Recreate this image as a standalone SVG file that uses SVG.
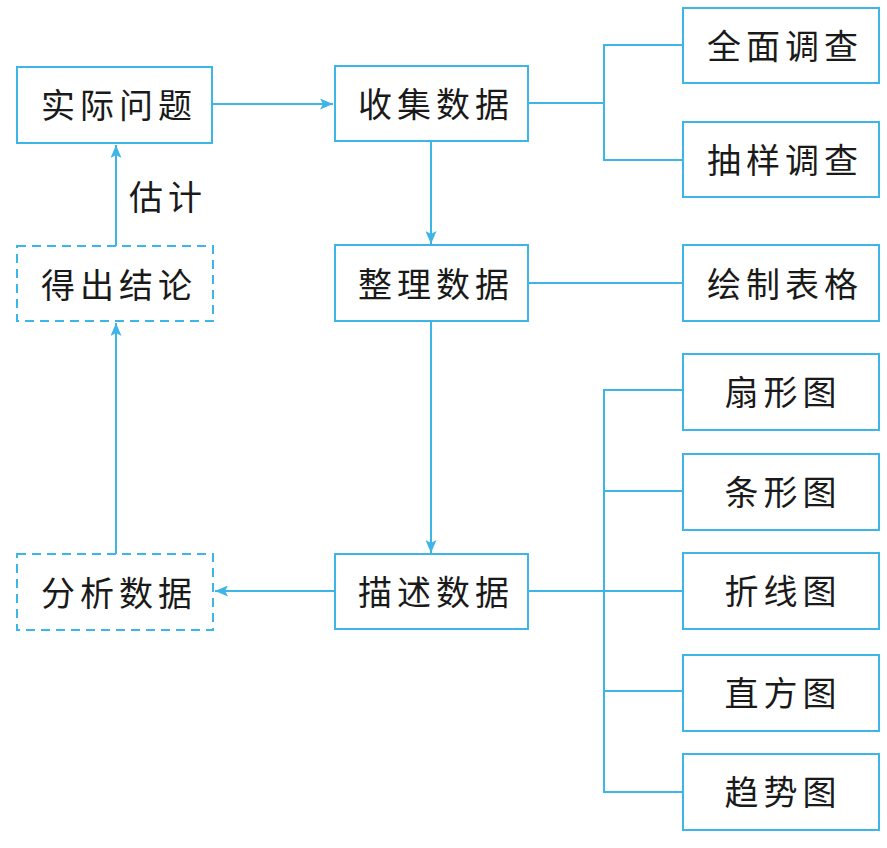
<svg xmlns="http://www.w3.org/2000/svg" width="887" height="848" viewBox="0 0 887 848">
<style>
.box{fill:#fff;stroke:#3db5e6;stroke-width:2}
.dash{stroke-dasharray:9 6}
.ln{fill:none;stroke:#3db5e6;stroke-width:2}
.t{font-family:"Noto Sans CJK SC",sans-serif;font-size:34px;fill:#1a1a1a;text-anchor:middle;dominant-baseline:central;letter-spacing:5px}
</style>
<defs>
<marker id="ah" viewBox="0 0 13 11" refX="13" refY="5.5" markerWidth="13" markerHeight="11" markerUnits="userSpaceOnUse" orient="auto">
<path d="M0,0 L13,5.5 L0,11 L3,5.5 Z" fill="#3db5e6"/>
</marker>
</defs>
<rect width="887" height="848" fill="#fff"/>
<g id="connectors">
<line class="ln" x1="212" y1="104" x2="333" y2="104" marker-end="url(#ah)"/>
<line class="ln" x1="431" y1="141" x2="431" y2="244" marker-end="url(#ah)"/>
<line class="ln" x1="431" y1="321" x2="431" y2="553" marker-end="url(#ah)"/>
<line class="ln" x1="335" y1="591" x2="215" y2="591" marker-end="url(#ah)"/>
<line class="ln" x1="116" y1="554" x2="116" y2="323" marker-end="url(#ah)"/>
<line class="ln" x1="116" y1="246" x2="116" y2="145" marker-end="url(#ah)"/>
<polyline class="ln" points="528,103 604,103"/>
<polyline class="ln" points="683,45 604,45 604,160 683,160"/>
<line class="ln" x1="528" y1="283" x2="683" y2="283"/>
<line class="ln" x1="528" y1="591" x2="683" y2="591"/>
<polyline class="ln" points="683,390 604,390 604,792 683,792"/>
<line class="ln" x1="604" y1="491" x2="683" y2="491"/>
<line class="ln" x1="604" y1="691" x2="683" y2="691"/>
<text class="t" x="168" y="195">估计</text>
</g>
<g id="n-shiji"><rect class="box" x="17" y="67" width="195" height="76"/><text class="t" x="119" y="103">实际问题</text></g>
<g id="n-shouji"><rect class="box" x="335" y="66" width="193" height="75"/><text class="t" x="436" y="102">收集数据</text></g>
<g id="n-quanmian"><rect class="box" x="683" y="8" width="196" height="75"/><text class="t" x="785" y="44">全面调查</text></g>
<g id="n-chouyang"><rect class="box" x="683" y="122" width="196" height="75"/><text class="t" x="785" y="158">抽样调查</text></g>
<g id="n-zhengli"><rect class="box" x="335" y="245" width="193" height="76"/><text class="t" x="436" y="282">整理数据</text></g>
<g id="n-huizhi"><rect class="box" x="683" y="245" width="196" height="76"/><text class="t" x="785" y="282">绘制表格</text></g>
<g id="n-dechu"><rect class="box dash" x="17" y="246" width="196" height="75"/><text class="t" x="119" y="283">得出结论</text></g>
<g id="n-fenxi"><rect class="box dash" x="17" y="554" width="196" height="76"/><text class="t" x="119" y="591">分析数据</text></g>
<g id="n-miaoshu"><rect class="box" x="335" y="554" width="193" height="75"/><text class="t" x="436" y="590">描述数据</text></g>
<g id="n-shanxing"><rect class="box" x="683" y="354" width="196" height="76"/><text class="t" x="783" y="390">扇形图</text></g>
<g id="n-tiaoxing"><rect class="box" x="683" y="454" width="196" height="76"/><text class="t" x="783" y="490">条形图</text></g>
<g id="n-zhexian"><rect class="box" x="683" y="553" width="196" height="76"/><text class="t" x="783" y="589">折线图</text></g>
<g id="n-zhifang"><rect class="box" x="683" y="655" width="196" height="76"/><text class="t" x="783" y="691">直方图</text></g>
<g id="n-qushi"><rect class="box" x="683" y="754" width="196" height="76"/><text class="t" x="783" y="790">趋势图</text></g>
</svg>
